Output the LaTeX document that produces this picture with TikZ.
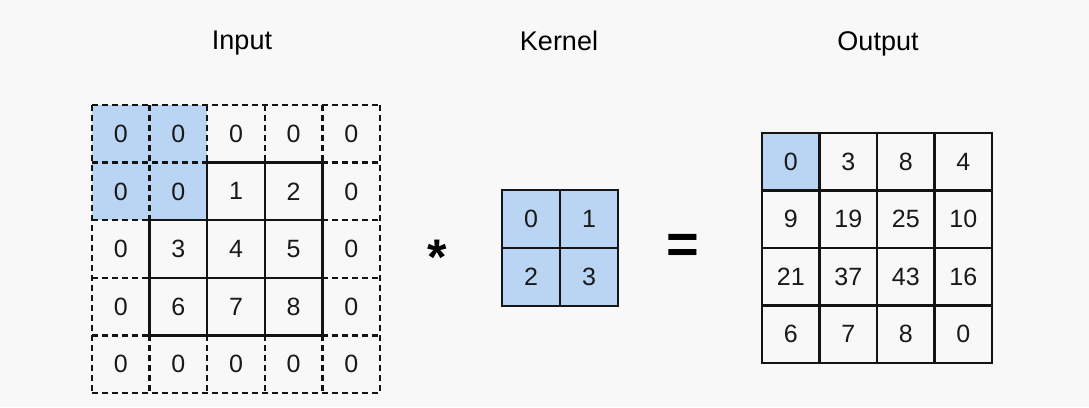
\documentclass[tikz,border=0pt]{standalone}
\usepackage{fontspec}
\setmainfont{Liberation Sans}
\usepackage{tikz}
\usetikzlibrary{backgrounds,calc}
\definecolor{cvedge}{RGB}{20,20,20}
\definecolor{cvblue}{RGB}{186,212,244}
\definecolor{cvbg}{RGB}{248,248,248}
\tikzset{
  num/.style={
    minimum size=57.6pt, inner sep=0pt, outer sep=0pt,
    font=\fontsize{25}{28}\selectfont, text=black!90
  },
  kcell/.style={num, minimum size=58pt, draw=cvedge, line width=2.5pt, fill=cvblue},
  ocell/.style={num, minimum size=57.5pt, draw=cvedge, line width=2.5pt},
  padline/.style={draw=cvedge, line width=2.3pt, dash pattern=on 6pt off 4pt},
  solidline/.style={draw=cvedge, line width=2.5pt, line cap=rect},
  lbl/.style={font=\fontsize{27}{30}\selectfont, anchor=base}
}

\begin{document}
\begin{tikzpicture}[x=1pt,y=1pt]
  \useasboundingbox (0,0) rectangle (1089,407);
  % input, padded with zeros
  \foreach \row [count=\i from 0] in
      {{0,0,0,0,0},{0,0,1,2,0},{0,3,4,5,0},{0,6,7,8,0},{0,0,0,0,0}}
    \foreach \v [count=\j from 0] in \row
      \node[num] (in-\i-\j) at ({120.8+57.6*\j},{273.2-57.6*\i}) {\v};
  \foreach \i in {0,...,4} \draw[padline] (in-\i-0.north west) -- (in-\i-4.north east);
  \draw[padline] (in-4-0.south west) -- (in-4-4.south east);
  \foreach \j in {0,...,4} \draw[padline] (in-0-\j.north west) -- (in-4-\j.south west);
  \draw[padline] (in-0-4.north east) -- (in-4-4.south east);
  % original 3x3
  \draw[solidline] (in-1-2.north west) -- (in-1-3.north east);
  \foreach \i in {1,2,3} \draw[solidline] (in-\i-1.south west) -- (in-\i-3.south east);
  \draw[solidline] (in-2-1.north west) -- (in-3-1.south west);
  \foreach \j in {1,2,3} \draw[solidline] (in-1-\j.north east) -- (in-3-\j.south east);

  % kernel
  \foreach \row [count=\i from 0] in {{0,1},{2,3}}
    \foreach \v [count=\j from 0] in \row
      \node[kcell] (ker-\i-\j) at ({531+58*\j},{188-58*\i}) {\v};

  % output
  \foreach \row [count=\i from 0] in {{0,3,8,4},{9,19,25,10},{21,37,43,16},{6,7,8,0}}
    \foreach \v [count=\j from 0] in \row
      \node[ocell] (out-\i-\j) at ({790.75+57.5*\j},{245.25-57.5*\i}) {\v};
  \node[ocell, fill=cvblue] at (out-0-0) {0};

  \node[font=\fontsize{50}{50}\selectfont\bfseries, anchor=base] (star) at (437,132) {*};
  \node[font=\fontsize{56}{56}\selectfont\bfseries, anchor=base] (eq) at (683,143) {=};

  \node[lbl] (inlbl) at (242,357) {Input};
  \node[lbl] (kerlbl) at (559,356) {Kernel};
  \node[lbl] (outlbl) at (878,356) {Output};

  \begin{scope}[on background layer]
    \fill[cvbg] (0,0) rectangle (1089,407);
    \fill[cvblue] (in-0-0.north west) rectangle (in-1-1.south east);
  \end{scope}
\end{tikzpicture}
\end{document}
